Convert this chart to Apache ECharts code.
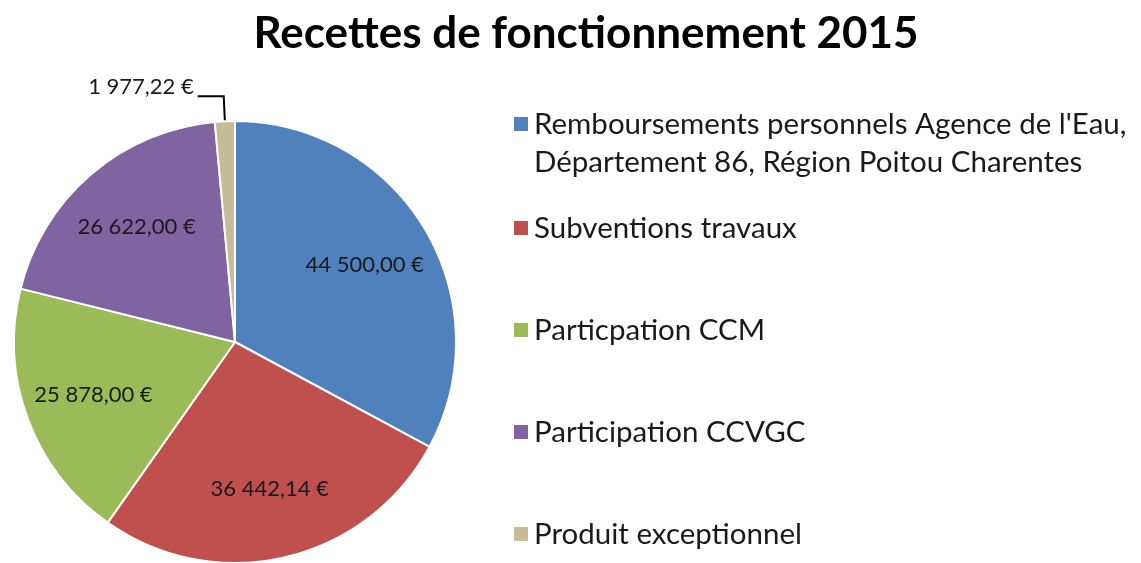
<!DOCTYPE html>
<html>
<head>
<meta charset="utf-8">
<script src="https://cdn.jsdelivr.net/npm/echarts@6/dist/echarts.min.js"></script>
<style>html,body{margin:0;padding:0;background:#fff}#c{width:1141px;height:563px}</style>
</head>
<body>
<div id="c"></div>
<script>
const titleText = 'Recettes de fonctionnement 2015';
const categories = [
  "Remboursements personnels Agence de l'Eau,\nDépartement 86, Région Poitou Charentes",
  'Subventions travaux',
  'Particpation CCM',
  'Participation CCVGC',
  'Produit exceptionnel'
];
const values = [44500.00, 36442.14, 25878.00, 26622.00, 1977.22];
const colors = ['#4F81BD', '#C0504D', '#9BBB59', '#8064A2', '#C4BD97'];

const FONT = 'Lato';
function fmt(v) {
  const parts = v.toFixed(2).split('.');
  const intPart = parts[0].replace(/\B(?=(\d{3})+(?!\d))/g, ' ');
  return intPart + ',' + parts[1] + ' €';
}

const CX = 235, CY = 342, R = 221;

const mainData = categories.map((n, i) => ({
  name: n, value: values[i],
  itemStyle: { color: colors[i] },
  label: i === 4 ? { show: true } : { show: false },
  labelLine: { show: i === 4 }
}));
const labelData = categories.map((n, i) => ({
  name: n, value: values[i],
  label: { show: i !== 4 }
}));

const chart = echarts.init(document.getElementById('c'), null, { renderer: 'canvas' });
chart.setOption({
  backgroundColor: '#fff',
  animation: false,
  title: {
    text: titleText, left: 581, top: 7, textAlign: 'center',
    textStyle: { fontFamily: FONT, fontWeight: 'bold', fontSize: 44, color: '#000' }
  },
  legend: [
    {
      orient: 'vertical', left: 507, top: 62, itemWidth: 16, itemHeight: 16,
      icon: 'rect', selectedMode: false,
      formatter: n => '\n' + n,
      data: [{ name: categories[0], itemStyle: { color: colors[0] } }],
      textStyle: { fontFamily: FONT, fontSize: 29.5, color: '#1a1a1a', lineHeight: 38 }
    },
    {
      orient: 'vertical', left: 507, top: 208, itemWidth: 16, itemHeight: 16, itemGap: 72,
      icon: 'rect', selectedMode: false,
      data: categories.slice(1).map((n, i) => ({ name: n, itemStyle: { color: colors[i + 1] } })),
      textStyle: { fontFamily: FONT, fontSize: 29.5, color: '#1a1a1a', lineHeight: 30 }
    }
  ],
  series: [
    {
      type: 'pie', center: [CX, CY], radius: [0, R], startAngle: 90, clockwise: true,
      silent: true, avoidLabelOverlap: false,
      itemStyle: { borderColor: '#fff', borderWidth: 2 },
      label: {
        position: 'outside', formatter: p => fmt(p.value) + '\n',
        fontFamily: FONT, fontSize: 22, lineHeight: 18, color: '#1a1a1a', distanceToLabelLine: 4
      },
      labelLine: { length: 25, length2: 26, lineStyle: { color: '#000', width: 2 } },
      emphasis: { disabled: true },
      data: mainData
    },
    {
      type: 'pie', center: [CX, CY], radius: [0, R * 1.34], startAngle: 90, clockwise: true,
      silent: true, avoidLabelOverlap: false, z: 5,
      itemStyle: { color: 'rgba(0,0,0,0)', borderWidth: 0 },
      label: {
        position: 'inside', formatter: p => fmt(p.value),
        fontFamily: FONT, fontSize: 22, color: '#1a1a1a'
      },
      labelLine: { show: false },
      emphasis: { disabled: true },
      data: labelData
    }
  ]
});
</script>
</body>
</html>
